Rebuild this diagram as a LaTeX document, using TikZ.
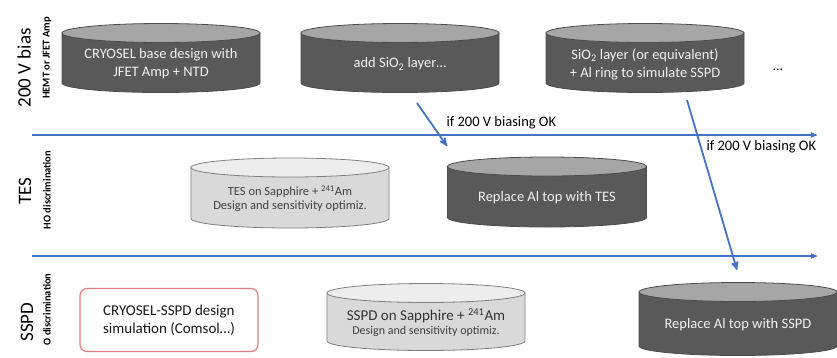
\documentclass[tikz,border=0pt]{standalone}
\usepackage{fontspec}
\setmainfont{Carlito}
\usetikzlibrary{arrows,positioning}
\definecolor{flowblue}{HTML}{4472C4}
\definecolor{canbody}{HTML}{595959}
\definecolor{cantop}{HTML}{A6A6A6}
\definecolor{padbody}{HTML}{D9D9D9}
\definecolor{padtop}{HTML}{EDEDED}
\definecolor{simred}{HTML}{E47C80}

% drum: name, x, y, width, height, look (dark/light), text
\newcommand\drumcap{9.5}
\newcommand\drum[7]{%
	\path[#6body] ({#2-#4/2},{#3-#5/2+\drumcap}) -- ({#2-#4/2},{#3+#5/2-\drumcap})
		arc[start angle=180,end angle=360,x radius=#4/2*1pt,y radius=\drumcap pt]
		-- ({#2+#4/2},{#3-#5/2+\drumcap}) -- cycle;
	\path[#6top] (#2,{#3-#5/2+\drumcap}) ellipse[x radius=#4/2*1pt,y radius=\drumcap pt];
	\node[#6text] (#1) at (#2,{#3+6}) {#7};
}

\begin{document}
\begin{tikzpicture}[x=1pt,y=-1pt,>=stealth',
		darkbody/.style={fill=canbody,draw=black!70,line width=0.8pt},
		darktop/.style={fill=cantop,draw=black!70,line width=0.8pt},
		darktext/.style={align=center,text=white!95!black,
			font=\fontsize{14.5}{18}\selectfont},
		lightbody/.style={fill=padbody,draw=black!50,line width=0.8pt},
		lighttop/.style={fill=padtop,draw=black!50,line width=0.8pt},
		lighttext/.style={align=center,text=black!75,
			font=\fontsize{12.5}{14}\selectfont},
		flow/.style={->,draw=flowblue,line width=1.2pt},
		jump/.style={->,draw=flowblue,line width=1.8pt},
		lane/.style={rotate=90,font=\fontsize{19}{20}\selectfont},
		sublane/.style={rotate=90,font=\bfseries\fontsize{10.5}{11}\selectfont},
		cond/.style={anchor=west,font=\fontsize{14.5}{16}\selectfont},
	]
	\useasboundingbox (0,0) rectangle (837,357);

	% first lane
	\drum{base}{161}{58}{198}{69}{dark}{CRYOSEL base design with\\JFET Amp + NTD}
	\drum{sio}{400}{58}{198}{69}{dark}{add SiO\textsubscript{2} layer…}
	\drum{ring}{645}{58}{198}{69}{dark}
		{SiO\textsubscript{2} layer (or equivalent)\\+ Al ring to simulate SSPD}
	\node[font=\fontsize{14}{16}\selectfont] (more) at (778,70) {…};

	% second lane
	\drum{tessa}{290}{193}{198}{70}{light}
		{TES on Sapphire + \textsuperscript{241}Am\\Design and sensitivity optimiz.}
	\drum{tes}{547}{192}{199}{70}{dark}{Replace Al top with TES}

	% third lane
	\node[draw=simred,line width=1.2pt,rounded corners=7pt,minimum width=178pt,
		minimum height=63pt,align=left,font=\fontsize{15}{18}\selectfont,
		text=black!90] (sim) at (169,320) {CRYOSEL-SSPD design\\simulation (Comsol…)};
	\drum{sspdsa}{426}{317}{198}{67}{light}
		{\fontsize{15}{17}\selectfont\color{black!80}SSPD on Sapphire + \textsuperscript{241}Am\\
		\fontsize{12}{14}\selectfont Design and sensitivity optimiz.}
	\drum{sspd}{738}{319}{198}{73}{dark}{Replace Al top with SSPD}

	% lane names
	\node[lane] (bias) at (24,68) {200 V bias};
	\node[sublane] (amp) at (47,58) {HEMT or JFET Amp};
	\node[lane] (teslane) at (25,191) {TES};
	\node[sublane] (hoa) at (47,190) {HO discrimination};
	\node[lane] (sspdlane) at (27,322) {SSPD};
	\node[sublane,anchor=east] (hob) at (47,270) {O discrimination};

	% lane borders and decisions
	\coordinate (top0) at (32,135);
	\coordinate (top1) at (817,135);
	\coordinate (bot0) at (32,256);
	\coordinate (bot1) at (817,256);
	\coordinate (goa) at (417,103);
	\coordinate (enda) at (447,146);
	\coordinate (gob) at (687,100);
	\coordinate (endb) at (737,270);
	\path
		(top0) edge[flow] (top1)
		(bot0) edge[flow] (bot1)
		(goa) edge[jump] (enda)
		(gob) edge[jump] (endb)
	;
	\node[cond] (oka) at (443,123) {if 200 V biasing OK};
	\node[cond] (okb) at (703,147) {if 200 V biasing OK};
\end{tikzpicture}
\end{document}
